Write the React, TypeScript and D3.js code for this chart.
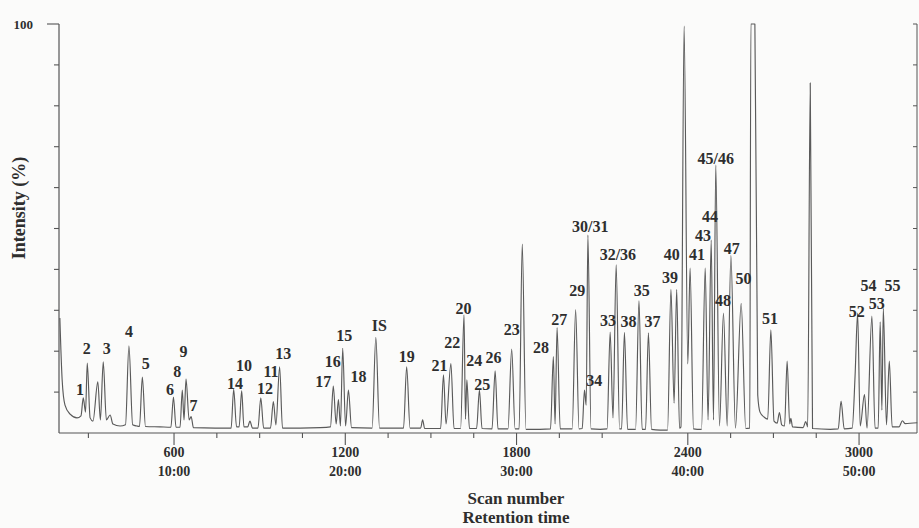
import React from 'react';
import * as d3 from 'd3';

// chromatogram trace: [scan number, intensity %]
const trace: [number, number][] = [
  [200, 28.1], [208, 13.0], [218, 6.8], [236, 4.6], [260, 3.7], [274, 4.2],
  [282, 8.6], [290, 5.1], [296, 17.1], [306, 3.7], [316, 2.9], [333, 12.5],
  [342, 3.2], [352, 17.4], [363, 3.2], [376, 4.4], [386, 2.2], [411, 1.7],
  [430, 2.0], [442, 21.3], [455, 2.0], [470, 1.7], [479, 1.6], [489, 13.7],
  [500, 1.6], [551, 1.5], [589, 1.4], [598, 8.8], [607, 1.4], [621, 1.4],
  [629, 10.5], [635, 3.2], [642, 13.2], [653, 3.2], [660, 4.0], [668, 1.3],
  [744, 1.2], [800, 1.2], [809, 10.7], [819, 1.5], [828, 1.5], [837, 10.3],
  [845, 1.5], [858, 1.5], [866, 2.9], [875, 1.2], [894, 1.2], [904, 8.6],
  [914, 1.2], [938, 1.2], [948, 7.7], [957, 2.0], [970, 16.2], [980, 1.2],
  [1042, 1.2], [1112, 1.3], [1148, 1.5], [1158, 11.5], [1168, 2.2], [1176, 8.2],
  [1183, 1.7], [1191, 20.7], [1201, 1.7], [1211, 10.5], [1222, 1.3], [1294, 1.2],
  [1307, 23.4], [1320, 1.2], [1404, 1.2], [1415, 16.2], [1427, 1.2], [1464, 1.2],
  [1471, 3.2], [1478, 1.1], [1534, 1.1], [1544, 14.2], [1553, 2.2], [1570, 17.0],
  [1581, 1.1], [1604, 1.1], [1616, 28.9], [1621, 3.4], [1626, 13.0], [1635, 1.1],
  [1660, 1.1], [1670, 10.5], [1679, 1.1], [1714, 1.0], [1725, 15.2], [1735, 1.0],
  [1770, 1.0], [1783, 20.5], [1795, 1.0], [1809, 1.0], [1820, 46.2], [1833, 0.9],
  [1882, 0.9], [1919, 1.0], [1929, 18.7], [1935, 2.2], [1942, 25.8], [1953, 1.0],
  [1995, 1.0], [2007, 30.2], [2019, 1.0], [2030, 1.1], [2038, 10.5], [2044, 6.8],
  [2050, 48.4], [2061, 1.0], [2093, 0.9], [2117, 1.0], [2128, 24.7], [2138, 3.7],
  [2149, 41.1], [2161, 1.0], [2168, 1.0], [2178, 24.6], [2189, 0.9], [2217, 0.9],
  [2229, 32.3], [2240, 0.9], [2252, 0.9], [2262, 24.5], [2273, 0.9], [2303, 0.7],
  [2329, 0.7], [2341, 35.1], [2352, 7.3], [2361, 35.1], [2371, 1.2], [2376, 1.5],
  [2387, 99.5], [2400, 16.9], [2408, 40.3], [2420, 1.0], [2433, 0.9], [2448, 0.9],
  [2461, 40.3], [2471, 3.2], [2482, 47.2], [2490, 3.2], [2498, 65.5], [2511, 1.7],
  [2525, 29.3], [2538, 1.7], [2551, 43.4], [2567, 1.2], [2587, 31.7], [2603, 1.1],
  [2617, 1.2], [2621, 100], [2635, 100], [2645, 9.3], [2653, 5.1], [2667, 3.9],
  [2680, 3.4], [2691, 25.2], [2702, 2.9], [2713, 2.4], [2721, 5.0], [2729, 2.0],
  [2739, 1.7], [2748, 17.6], [2757, 2.2], [2761, 3.6], [2767, 1.5], [2804, 1.3],
  [2813, 2.8], [2820, 1.5], [2829, 85.6], [2837, 1.1], [2899, 0.9], [2927, 1.0],
  [2937, 7.8], [2948, 1.0], [2976, 1.2], [2986, 13.9], [2995, 29.3], [3004, 1.7],
  [3019, 9.4], [3028, 1.2], [3045, 28.6], [3056, 1.2], [3067, 1.2], [3074, 27.2],
  [3080, 5.6], [3085, 30.5], [3096, 2.0], [3106, 17.6], [3116, 1.5], [3140, 1.5],
  [3152, 3.0], [3161, 2.3], [3204, 2.5],
];

// peak names and where they sit: [label, scan, intensity]
const peakLabels: [string, number, number][] = [
  ['1', 271, 10.8], ['2', 294, 20.7], ['3', 364, 20.7], ['4', 442, 25.0],
  ['5', 501, 17.0], ['6', 586, 10.8], ['8', 611, 15.2], ['9', 633, 20.1],
  ['7', 668, 6.8], ['14', 814, 12.2], ['10', 845, 16.6], ['12', 919, 10.9],
  ['11', 940, 15.2], ['13', 983, 19.5], ['17', 1123, 12.7], ['16', 1156, 17.6],
  ['15', 1196, 24.0], ['18', 1246, 13.8], ['IS', 1319, 26.4], ['19', 1415, 18.7],
  ['21', 1530, 16.5], ['22', 1575, 22.2], ['20', 1614, 30.5], ['24', 1652, 17.8],
  ['25', 1680, 12.0], ['26', 1719, 18.5], ['23', 1783, 25.4], ['28', 1886, 20.9],
  ['27', 1950, 27.9], ['29', 2013, 35.0], ['30/31', 2058, 50.6], ['34', 2072, 12.8],
  ['33', 2120, 27.6], ['32/36', 2155, 43.8], ['38', 2192, 27.4], ['35', 2239, 35.0],
  ['37', 2276, 27.4], ['39', 2338, 38.1], ['40', 2344, 43.8], ['41', 2432, 43.8],
  ['43', 2453, 48.4], ['44', 2478, 52.9], ['45/46', 2498, 67.2], ['48', 2523, 32.5],
  ['47', 2554, 45.2], ['50', 2595, 37.8], ['51', 2688, 28.0], ['52', 2992, 29.7],
  ['54', 3033, 36.2], ['53', 3062, 31.7], ['55', 3117, 36.2],
];

const majorTicks = [600, 1200, 1800, 2400, 3000];
const timeLabels = ['10:00', '20:00', '30:00', '40:00', '50:00'];
const minorTicks = [300, 750, 900, 1050, 1350, 1500, 1650, 1950, 2100, 2550, 2700, 2850];
const yTicks = [10, 20, 30, 40, 50, 60, 70, 80, 90, 100];

const font = '"Liberation Serif", "Times New Roman", serif';
const ink = '#2e2e2e';
const axisColor = '#555';

function App() {
  const x = d3.scaleLinear().domain([197, 3203]).range([59, 917]);
  const y = d3.scaleLinear().domain([0, 100]).range([433, 24]);

  const line = d3
    .line<[number, number]>()
    .x((d) => x(d[0]))
    .y((d) => y(d[1]))
    .curve(d3.curveMonotoneX);

  const x0 = x.range()[0];
  const x1 = x.range()[1];
  const yb = y(0);

  return (
    <svg
      width={919}
      height={528}
      style={{ position: 'absolute', left: 0, top: 0, background: '#fbfbfa' }}
      fontFamily={font}
      fontWeight="bold"
    >
      {/* axes */}
      <line x1={x0} x2={x0} y1={y(100)} y2={yb} stroke={axisColor} strokeWidth={1.2} />
      <line x1={x1} x2={x1} y1={y(100)} y2={yb} stroke={axisColor} strokeWidth={1} />
      <line x1={x0} x2={x1} y1={yb} y2={yb} stroke={axisColor} strokeWidth={1.2} />
      {yTicks.map((t) => (
        <g key={'yt' + t}>
          <line x1={x0 - (t === 100 ? 12 : 5)} x2={x0} y1={y(t)} y2={y(t)} stroke={axisColor} strokeWidth={1.1} />
          <line x1={x1 - 4} x2={x1} y1={y(t)} y2={y(t)} stroke={axisColor} strokeWidth={1} />
        </g>
      ))}
      <text x={33} y={y(100) + 4.5} textAnchor="end" fontSize={13} fill={ink}>
        100
      </text>
      {minorTicks.map((t) => (
        <line key={'mt' + t} x1={x(t)} x2={x(t)} y1={yb} y2={yb + 5} stroke={axisColor} strokeWidth={1.1} />
      ))}
      {majorTicks.map((t, i) => (
        <g key={'Mt' + t}>
          <line x1={x(t)} x2={x(t)} y1={yb} y2={yb + 12} stroke={axisColor} strokeWidth={1.1} />
          <text x={x(t)} y={457} textAnchor="middle" fontSize={14} fill={ink}>
            {t}
          </text>
          <text x={x(t)} y={476} textAnchor="middle" fontSize={14} fill={ink}>
            {timeLabels[i]}
          </text>
        </g>
      ))}

      {/* axis titles */}
      <text x={516} y={504} textAnchor="middle" fontSize={17} fill={ink}>
        Scan number
      </text>
      <text x={516} y={523} textAnchor="middle" fontSize={17} fill={ink}>
        Retention time
      </text>
      <text transform="translate(25,208) rotate(-90)" textAnchor="middle" fontSize={18} fill={ink}>
        Intensity (%)
      </text>

      {/* trace */}
      <path d={line(trace) || ''} fill="none" stroke="#5a5a5a" strokeWidth={1.15} strokeLinejoin="round" />

      {/* peak labels */}
      {peakLabels.map(([name, s, v]) => (
        <text key={name} x={x(s)} y={y(v)} dy="0.36em" textAnchor="middle" fontSize={16} fill={ink}>
          {name}
        </text>
      ))}
    </svg>
  );
}

export default App;
